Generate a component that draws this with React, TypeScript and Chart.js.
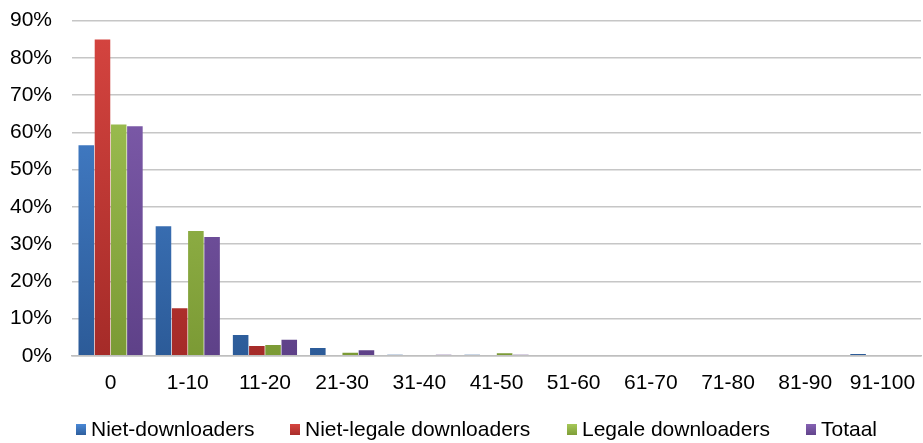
import React, { useEffect, useRef } from "react";
import { Chart, registerables } from "chart.js";

Chart.register(...registerables);

const categories = ["0", "1-10", "11-20", "21-30", "31-40", "41-50", "51-60", "61-70", "71-80", "81-90", "91-100"];
const nietDownloaders = [56.5, 34.8, 5.6, 2.1, 0.3, 0.3, 0, 0, 0, 0, 0.5];
const nietLegaleDownloaders = [84.9, 12.8, 2.6, 0, 0, 0, 0, 0, 0, 0, 0];
const legaleDownloaders = [62.1, 33.5, 2.9, 0.8, 0.2, 0.7, 0, 0, 0, 0, 0];
const totaal = [61.6, 31.9, 4.3, 1.5, 0.3, 0.3, 0, 0, 0, 0, 0.2];
const yTicks = [0, 10, 20, 30, 40, 50, 60, 70, 80, 90];

const seriesNames = ["Niet-downloaders", "Niet-legale downloaders", "Legale downloaders", "Totaal"];
const seriesColors = [
  ["#4a88d6", "#2c5b98"],
  ["#d64540", "#a52b28"],
  ["#a6c858", "#7b9a35"],
  ["#8662b3", "#5e4188"],
];

const FONT_FAMILY = "'Liberation Sans', Arial, sans-serif";
const SHIFT = 12;
const legendBoxX = [76, 290, 567, 806];

const legendPlugin = {
  id: "customLegend",
  afterDraw(chart: any) {
    const ctx = chart.ctx;
    ctx.save();
    ctx.font = `21px ${FONT_FAMILY}`;
    ctx.textBaseline = "middle";
    const y = 430 + SHIFT;
    seriesNames.forEach((n, i) => {
      const x = legendBoxX[i];
      const g = ctx.createLinearGradient(0, y - 6, 0, y + 6);
      g.addColorStop(0, seriesColors[i][0]);
      g.addColorStop(1, seriesColors[i][1]);
      ctx.fillStyle = g;
      ctx.fillRect(x, y - 6, 10, 11);
      ctx.fillStyle = "#000";
      ctx.fillText(n, x + 15, y);
    });
    ctx.restore();
  },
};

export default function App() {
  const ref = useRef<HTMLCanvasElement>(null);
  useEffect(() => {
    document.body.style.margin = "0";
    document.body.style.overflow = "hidden";
    const font = { family: FONT_FAMILY, size: 21 };
    const grad = (i: number) => (ctx: any) => {
      const area = ctx.chart.chartArea;
      if (!area) return seriesColors[i][0];
      const g = ctx.chart.ctx.createLinearGradient(0, area.top, 0, area.bottom);
      g.addColorStop(0, seriesColors[i][0]);
      g.addColorStop(1, seriesColors[i][1]);
      return g;
    };
    const data = [nietDownloaders, nietLegaleDownloaders, legaleDownloaders, totaal];
    const chart = new Chart(ref.current!, {
      type: "bar",
      data: {
        labels: categories,
        datasets: data.map((d, i) => ({
          label: seriesNames[i],
          data: d,
          backgroundColor: grad(i),
          borderWidth: 0,
          barPercentage: 0.96,
          categoryPercentage: 0.84,
        })),
      },
      options: {
        animation: false,
        responsive: false,
        maintainAspectRatio: false,
        layout: { padding: { top: 7, right: 2, left: 0, bottom: 32 } },
        plugins: {
          tooltip: { enabled: false },
          legend: { display: false },
        },
        scales: {
          x: {
            afterFit: (s: any) => { s.paddingRight = 0; s.paddingLeft = 0; },
            grid: { display: false, drawTicks: false },
            border: { display: true, color: "#bfbfbf", width: 1.5 },
            ticks: { font, color: "#000", padding: 15, maxRotation: 0, autoSkip: false },
          },
          y: {
            min: 0,
            max: 90,
            afterFit: (s: any) => { s.width = 72; },
            afterBuildTicks: (s: any) => { s.ticks = yTicks.map((v) => ({ value: v })); },
            grid: { color: "#c6c6c6", lineWidth: 1.5, drawTicks: false },
            border: { display: false },
            ticks: { font, color: "#000", padding: 20, callback: (v: any) => v + "%" },
          },
        },
      },
      plugins: [legendPlugin],
    });
    return () => chart.destroy();
  }, []);
  return (
    <canvas
      ref={ref}
      width={923}
      height={443 + SHIFT}
      style={{ display: "block", position: "absolute", left: 0, top: -SHIFT }}
    />
  );
}
